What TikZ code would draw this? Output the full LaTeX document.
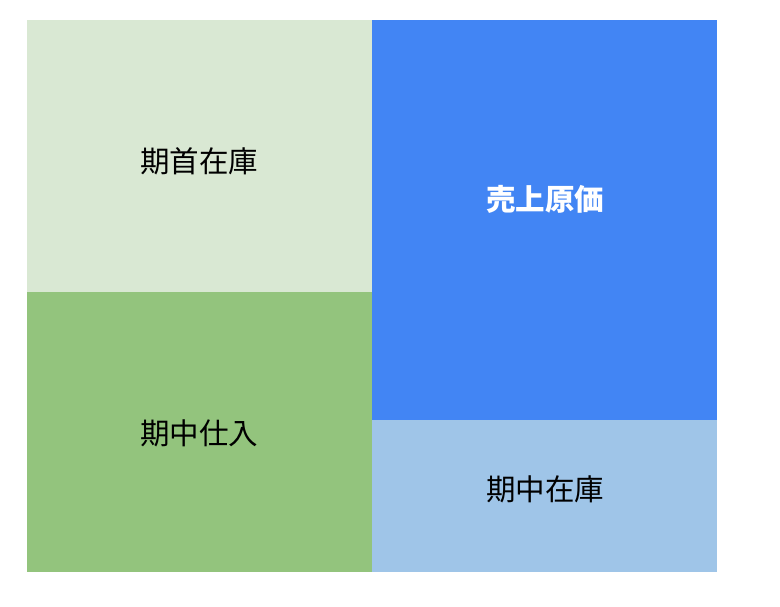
\documentclass[tikz,border=0pt]{standalone}
\usepackage{fontspec}
\newfontfamily\jpfont{Noto Sans CJK JP}
\definecolor{firststock}{HTML}{D9E8D3}
\definecolor{purchase}{HTML}{93C47D}
\definecolor{costsales}{HTML}{4285F4}
\definecolor{laststock}{HTML}{9FC5E8}
\tikzset{
  blocktext/.style={font=\jpfont\fontsize{29.5}{32}\selectfont, text=black}
}
\begin{document}
\begin{tikzpicture}[x=1pt,y=1pt]
                \useasboundingbox (0,0) rectangle (780,607);
                \fill[firststock] (27,315) rectangle (372,587);
                \fill[purchase] (27,35) rectangle (372,315);
                \fill[costsales] (372,187) rectangle (717,587);
                \fill[laststock] (372,35) rectangle (717,187);

                \node[blocktext] (first) at (199,446) {期首在庫};
                \node[blocktext] (buy) at (199,174) {期中仕入};
                \node[blocktext, text=white, font=\jpfont\bfseries\fontsize{29.5}{32}\selectfont] (cogs) at (545,408) {売上原価};
                \node[blocktext] (last) at (545,118) {期中在庫};
\end{tikzpicture}
\end{document}
